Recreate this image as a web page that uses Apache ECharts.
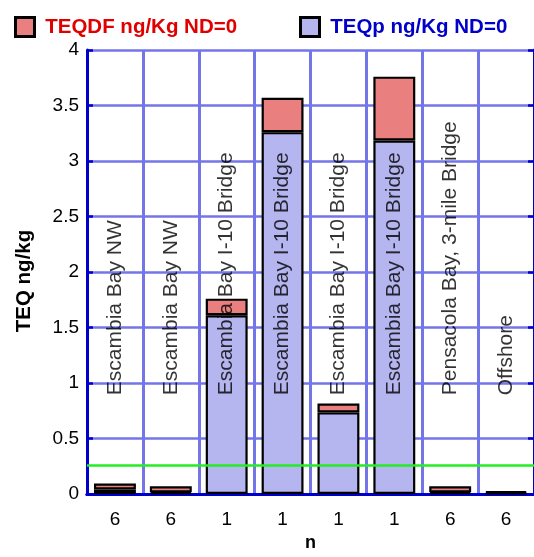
<!DOCTYPE html>
<html>
<head>
<meta charset="utf-8">
<script src="https://cdn.jsdelivr.net/npm/echarts@6/dist/echarts.min.js"></script>
<style>html,body{margin:0;padding:0;background:#fff;overflow:hidden}#c{width:534px;height:557px}</style>
</head>
<body>
<div id="c"></div>
<script>
var nLabels = ['6', '6', '1', '1', '1', '1', '6', '6'];
var locations = ['Escambia Bay NW', 'Escambia Bay NW', 'Escambia Bay I-10 Bridge', 'Escambia Bay I-10 Bridge',
  'Escambia Bay I-10 Bridge', 'Escambia Bay I-10 Bridge', 'Pensacola Bay, 3-mile Bridge', 'Offshore'];
var teqP = [0.04, 0.015, 1.61, 3.26, 0.735, 3.185, 0.015, 0.01];
var teqDF = [0.055, 0.055, 0.15, 0.31, 0.08, 0.575, 0.055, 0.015];
var labelLevel = [0.89, 0.89, 0.89, 0.89, 0.89, 0.89, 0.89, 0.89];
var refLine = 0.263;
var yTicks = [0, 0.5, 1, 1.5, 2, 2.5, 3, 3.5, 4];

var FONT = 'Liberation Sans, Arial, sans-serif';
var chart = echarts.init(document.getElementById('c'), null, {renderer: 'canvas', width: 534, height: 557});
var gridColor = '#7575ea';
var axisColor = '#0000cc';

chart.setOption({
  animation: false,
  legend: [{
    left: 9, top: 11, itemWidth: 19, itemHeight: 19, icon: 'rect',
    itemStyle: {borderColor: '#000', borderWidth: 3},
    formatter: ' {name}',
    data: [{name: 'TEQDF ng/Kg ND=0', textStyle: {color: '#e00000'}}],
    textStyle: {fontFamily: FONT, fontWeight: 'bold', fontSize: 20.5}
  }, {
    left: 294, top: 11, itemWidth: 19, itemHeight: 19, icon: 'rect',
    itemStyle: {borderColor: '#000', borderWidth: 3},
    formatter: ' {name}',
    data: [{name: 'TEQp ng/Kg ND=0', textStyle: {color: '#0000c8'}}],
    textStyle: {fontFamily: FONT, fontWeight: 'bold', fontSize: 20.5}
  }],
  grid: {left: 87, top: 50, width: 448, height: 448, containLabel: false},
  xAxis: [{
    type: 'category', position: 'bottom', data: nLabels,
    name: 'n', nameLocation: 'middle', nameGap: 40,
    nameTextStyle: {fontFamily: FONT, fontWeight: 'bold', fontSize: 18, color: '#000'},
    axisLine: {lineStyle: {color: axisColor, width: 3}},
    axisTick: {inside: true, length: 6, lineStyle: {color: axisColor, width: 2.5}},
    axisLabel: {margin: 16, fontFamily: FONT, fontSize: 19, color: '#000'},
    splitLine: {show: true, lineStyle: {color: gridColor, width: 3}}
  }, {
    type: 'category', position: 'top', data: nLabels,
    axisLine: {lineStyle: {color: axisColor, width: 3}},
    axisTick: {inside: true, length: 6, lineStyle: {color: axisColor, width: 2.5}},
    axisLabel: {show: false},
    splitLine: {show: false}
  }],
  yAxis: [{
    type: 'value', min: 0, max: 4, interval: 0.5,
    name: 'TEQ ng/kg', nameLocation: 'middle', nameGap: 52, nameRotate: 90,
    nameTextStyle: {fontFamily: FONT, fontWeight: 'bold', fontSize: 20.5, color: '#000', padding: [0, 18, 0, 0]},
    axisLine: {show: true, lineStyle: {color: axisColor, width: 3}},
    axisTick: {show: true, inside: true, length: 6, lineStyle: {color: axisColor, width: 2.5}},
    axisLabel: {margin: 8, fontFamily: FONT, fontSize: 19, color: '#000',
      formatter: function (v) { return yTicks.indexOf(v) >= 0 ? String(v) : ''; }},
    splitLine: {show: true, lineStyle: {color: gridColor, width: 2.5}}
  }, {
    type: 'value', min: 0, max: 4, interval: 0.5, position: 'right',
    axisLine: {show: true, lineStyle: {color: axisColor, width: 3}},
    axisTick: {show: true, inside: true, length: 6, lineStyle: {color: axisColor, width: 2.5}},
    axisLabel: {show: false}, splitLine: {show: false}
  }],
  series: [{
    name: 'TEQp ng/Kg ND=0', type: 'bar', stack: 'teq', data: teqP,
    barCategoryGap: '25%',
    itemStyle: {color: '#b5b5ef', borderColor: '#000', borderWidth: 2.2},
    markLine: {
      silent: true, symbol: 'none', label: {show: false},
      lineStyle: {color: '#22ee22', width: 2.5, type: 'solid'},
      data: [{yAxis: refLine}]
    }
  }, {
    name: 'TEQDF ng/Kg ND=0', type: 'bar', stack: 'teq', data: teqDF,
    itemStyle: {color: '#e97f7f', borderColor: '#000', borderWidth: 2.2}
  }, {
    name: 'labels', type: 'scatter', data: labelLevel, symbolSize: 0, z: 10,
    label: {
      show: true, position: 'inside', rotate: 90, align: 'left', verticalAlign: 'middle',
      fontFamily: FONT, fontSize: 21, color: '#000',
      formatter: function (p) { return locations[p.dataIndex]; }
    }
  }]
});
</script>
</body>
</html>
